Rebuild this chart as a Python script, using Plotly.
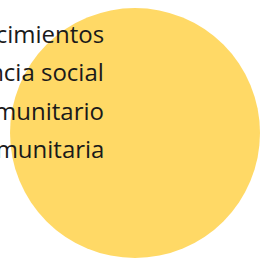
import plotly.graph_objects as go

# Data
categories = ["Conocimientos", "Asistencia social", "Trabajo comunitario", "Participación comunitaria"]
slice_labels = ["Total"]
slice_values = [100]

fig = go.Figure()
fig.add_trace(go.Pie(
    labels=slice_labels,
    values=slice_values,
    marker=dict(colors=["#FFD966"], line=dict(width=0)),
    textinfo="none",
    hoverinfo="none",
    sort=False,
    showlegend=False,
    domain=dict(x=[10/260, 1.0], y=[1/260, 253/260]),
))

top_px = 33.0
step_px = 38.6
for i, lab in enumerate(categories):
    fig.add_annotation(
        text=lab, xref="paper", yref="paper",
        x=106/260, y=1 - (top_px + i*step_px)/260,
        xanchor="right", yanchor="middle", showarrow=False,
        font=dict(family="Open Sans", size=24, color="#1a1a1a"),
    )

fig.update_layout(
    width=260, height=260,
    margin=dict(l=0, r=0, t=0, b=0),
    paper_bgcolor="white", plot_bgcolor="white",
)
fig.write_html("out.html", config={"displayModeBar": False},
               post_script="document.body.style.margin='0';")
